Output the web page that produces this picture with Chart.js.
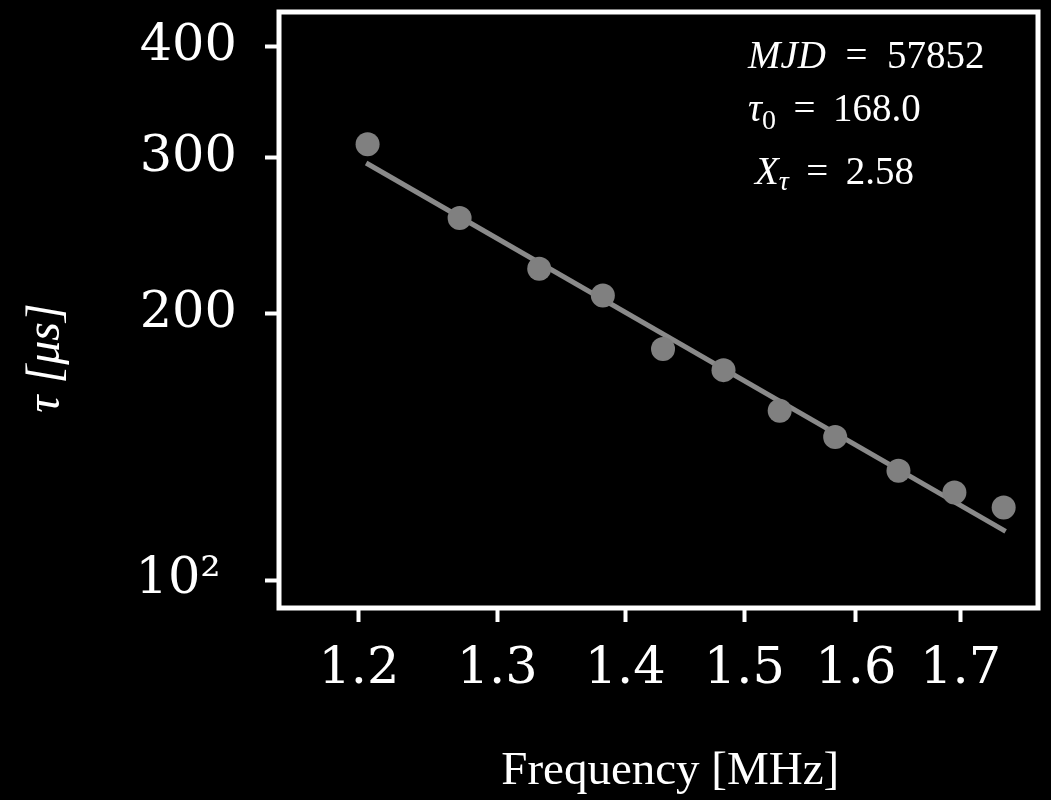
<!DOCTYPE html>
<html>
<head>
<meta charset="utf-8">
<script src="https://cdn.jsdelivr.net/npm/chart.js@4.4.1/dist/chart.umd.min.js"></script>
<style>
  html, body { margin: 0; padding: 0; background: #000; }
  canvas { display: block; }
</style>
</head>
<body>
<canvas id="chart" width="1051" height="800"></canvas>
<script>
// ---- data ----
const frequencies = [1.206, 1.272, 1.332, 1.382, 1.431, 1.482, 1.531, 1.581, 1.640, 1.694, 1.743];
const tauValues   = [310.5, 256.4, 224.7, 209.6, 182.3, 172.6, 155.3, 145.1, 132.9, 125.6, 120.8];
const fitFrequencies = [1.205, 1.745];
const fitTau         = [295.7, 113.5];
const xTickValues = [1.2, 1.3, 1.4, 1.5, 1.6, 1.7];
const xTickLabels = ['1.2', '1.3', '1.4', '1.5', '1.6', '1.7'];
const yTickValues = [100, 200, 300, 400];
const yTickLabels = ['10\u00B2 ', '200', '300', '400'];
const mjdValue = '57852';
const tau0Value = '168.0';
const xTauValue = '2.58';
const xAxisTitle = 'Frequency [MHz]';
const yAxisTitle = '\u03C4 [\u03BCs]';

// ---- plugins ----
const backgroundPlugin = {
  id: 'bg',
  beforeDraw(chart) {
    const c = chart.ctx;
    c.save();
    c.fillStyle = '#000';
    c.fillRect(0, 0, chart.width, chart.height);
    c.restore();
  }
};

const framePlugin = {
  id: 'frame',
  afterDraw(chart) {
    const a = chart.chartArea, c = chart.ctx;
    c.save();
    c.strokeStyle = '#fff';
    c.lineWidth = 5;
    c.strokeRect(a.left, a.top, a.right - a.left, a.bottom - a.top);
    c.restore();
  }
};

const annotationPlugin = {
  id: 'annot',
  afterDraw(chart) {
    const a = chart.chartArea, c = chart.ctx;
    const W = a.right - a.left, H = a.bottom - a.top;
    const eq = ' \u2009=\u2009 ';
    const lines = [
      { fx: 0.6179, fy: 0.0935, runs: [
        { t: 'MJD', it: true }, { t: '  =  ' }, { t: mjdValue } ] },
      { fx: 0.6179, fy: 0.1836, runs: [
        { t: '\u03C4', it: true }, { t: '0', sub: 8 }, { t: eq }, { t: tau0Value } ] },
      { fx: 0.627, fy: 0.2888, runs: [
        { t: 'X', it: true }, { t: '\u03C4', it: true, sub: 6 }, { t: eq }, { t: xTauValue } ] }
    ];
    c.save();
    c.fillStyle = '#fff';
    c.textAlign = 'left';
    c.textBaseline = 'alphabetic';
    lines.forEach(line => {
      let x = a.left + line.fx * W;
      const y = a.top + line.fy * H;
      line.runs.forEach(r => {
        const size = r.sub ? 28 : 39;
        c.font = (r.it ? 'italic ' : '') + size + 'px "Liberation Serif"';
        c.fillText(r.t, x, y + (r.sub || 0));
        x += c.measureText(r.t).width;
      });
    });
    c.restore();
  }
};

const tickFont = { family: 'DejaVu Serif', size: 51 };

new Chart(document.getElementById('chart').getContext('2d'), {
  type: 'scatter',
  data: {
    datasets: [
      {
        type: 'line',
        data: fitFrequencies.map((f, i) => ({ x: f, y: fitTau[i] })),
        borderColor: '#8a8a8a',
        borderWidth: 5,
        pointRadius: 0,
        fill: false,
        order: 2
      },
      {
        type: 'scatter',
        data: frequencies.map((f, i) => ({ x: f, y: tauValues[i] })),
        backgroundColor: '#808080',
        borderWidth: 0,
        pointRadius: 12,
        order: 1
      }
    ]
  },
  options: {
    responsive: false,
    animation: false,
    devicePixelRatio: 1,
    layout: { padding: { top: 9, right: 13, left: 0, bottom: 0 } },
    plugins: { legend: { display: false }, tooltip: { enabled: false } },
    scales: {
      x: {
        type: 'logarithmic',
        min: 1.1457,
        max: 1.778,
        afterBuildTicks: s => { s.ticks = xTickValues.map(v => ({ value: v })); },
        ticks: {
          callback: (v, i) => xTickLabels[i],
          color: '#fff',
          font: tickFont,
          padding: 17,
          maxRotation: 0,
          autoSkip: false
        },
        grid: { drawOnChartArea: false, drawTicks: true, tickLength: 14, tickWidth: 4, tickColor: '#fff', color: '#fff' },
        border: { display: false },
        title: {
          display: true,
          text: '\u2002' + xAxisTitle,
          color: '#fff',
          font: { family: 'Liberation Serif', size: 47 },
          padding: { top: 0, bottom: 0 }
        },
        afterFit: s => { s.height = 192; s.paddingLeft = 0; s.paddingRight = 0; }
      },
      y: {
        type: 'logarithmic',
        min: 93.0,
        max: 437.9,
        afterBuildTicks: s => { s.ticks = yTickValues.map(v => ({ value: v })); },
        ticks: {
          callback: (v, i) => yTickLabels[i],
          color: '#fff',
          font: tickFont,
          padding: 28,
          autoSkip: false
        },
        grid: { drawOnChartArea: false, drawTicks: true, tickLength: 14, tickWidth: 4, tickColor: '#fff', color: '#fff' },
        border: { display: false },
        title: {
          display: true,
          text: yAxisTitle + '        ',
          color: '#fff',
          font: { family: 'Liberation Serif', style: 'italic', size: 48 },
          padding: { top: 18, bottom: 0 }
        },
        afterFit: s => { s.width = 279; s.paddingTop = 0; s.paddingBottom = 0; }
      }
    }
  },
  plugins: [backgroundPlugin, framePlugin, annotationPlugin]
});
</script>
</body>
</html>
